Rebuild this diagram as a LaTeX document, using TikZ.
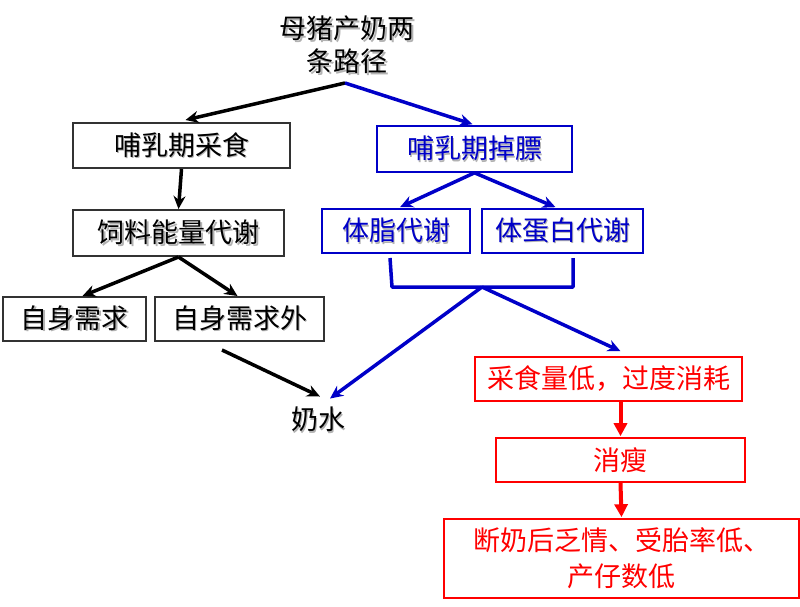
\documentclass[tikz,border=0pt]{standalone}
\usepackage{fontspec}
\setmainfont{Noto Sans CJK SC}
\usetikzlibrary{arrows.meta,calc}
\definecolor{myblue}{RGB}{0,0,200}
\definecolor{myred}{RGB}{255,0,0}
\definecolor{boxgray}{RGB}{50,50,50}
\newcommand\shd[1]{\leavevmode\rlap{\kern1.6pt\raisebox{-1.6pt}{\textcolor{black!30}{#1}}}#1}
\tikzset{
  txt/.style={inner sep=0pt, font=\fontsize{27pt}{33pt}\selectfont, align=center},
  bbox/.style={draw=boxgray, line width=2pt, txt, text=black},
  ubox/.style={draw=myblue, line width=1.6pt, txt, text=myblue},
  rbox/.style={draw=myred, line width=1.6pt, txt, text=myred},
  karrow/.style={line width=3.5pt, black, -{Stealth[length=13pt,width=12pt]}},
  barrow/.style={line width=3.5pt, myblue, -{Stealth[length=13pt,width=12pt]}},
  rarrow/.style={line width=4pt, myred, -{Triangle[length=13pt,width=13pt]}},
}
\begin{document}
\begin{tikzpicture}[x=1pt,y=-1pt]
\useasboundingbox (0,0) rectangle (800,607);
% title
\node[txt] (title) at (347,46) {\shd{母猪产奶两}\\\shd{条路径}};
\coordinate (s0) at (345,83);
% left branch boxes
\node[bbox, minimum width=217pt, minimum height=45pt] (b1) at (181.5,145.5) {\shd{哺乳期采食}};
\node[bbox, minimum width=211pt, minimum height=46pt] (b3) at (178.5,233) {\shd{饲料能量代谢}};
\node[bbox, minimum width=143pt, minimum height=44pt] (b4) at (74.5,319) {\shd{自身需求}};
\node[bbox, minimum width=169pt, minimum height=44pt] (b5) at (239.5,319) {\shd{自身需求外}};
% right branch boxes
\node[ubox, minimum width=195pt, minimum height=46pt] (b2) at (474.5,149) {\shd{哺乳期掉膘}};
\node[ubox, minimum width=148pt, minimum height=44pt] (b6) at (396,231) {\shd{体脂代谢}};
\node[ubox, minimum width=161pt, minimum height=44pt] (b7) at (562.5,231) {\shd{体蛋白代谢}};
% milk
\node[txt] (milk) at (318,420) {\shd{奶水}};
% red boxes
\node[rbox, minimum width=267pt, minimum height=44pt] (r1) at (608.5,379) {采食量低，过度消耗};
\node[rbox, minimum width=249pt, minimum height=44pt] (r2) at (620.5,460) {消瘦};
\node[rbox, minimum width=355pt, minimum height=79pt, font=\fontsize{27pt}{36pt}\selectfont] (r3) at (621.5,558.5) {断奶后乏情、受胎率低、\\产仔数低};
% black connectors
\draw[karrow] (s0) -- ($(b1.north)+(4,-2)$);
\draw[karrow] (b1.south) -- (b3.north);
\draw[karrow] (b3.south) -- ($(b4.north)+(8,0)$);
\draw[karrow] (b3.south) -- ($(b5.north)+(-2,0)$);
\coordinate (k1) at (222,350);
\draw[karrow] (k1) -- ($(milk.north)+(2,-10)$);
% blue connectors
\draw[barrow] (s0) -- ($(b2.north)+(-2,-1)$);
\draw[barrow] (b2.south) -- ($(b6.north)+(4,-1)$);
\draw[barrow] (b2.south) -- ($(b7.north)+(-7,-1)$);
\coordinate (bl) at (390,258);
\coordinate (br) at (573,258);
\coordinate (bm) at (482,287);
\draw[myblue, line width=3.5pt, line join=round] (bl) -- (392,287) -- (573,287) -- (br);
\draw[barrow] (bm) -- ($(milk.north)+(12,-8)$);
\draw[barrow] (bm) -- ($(r1.north)+(12,-5)$);
% red connectors
\draw[rarrow] ($(r1.south)+(12,0)$) -- ($(r2.north)+(0,-1)$);
\draw[rarrow] (r2.south) -- ($(r3.north)+(0,-1)$);
\end{tikzpicture}
\end{document}
